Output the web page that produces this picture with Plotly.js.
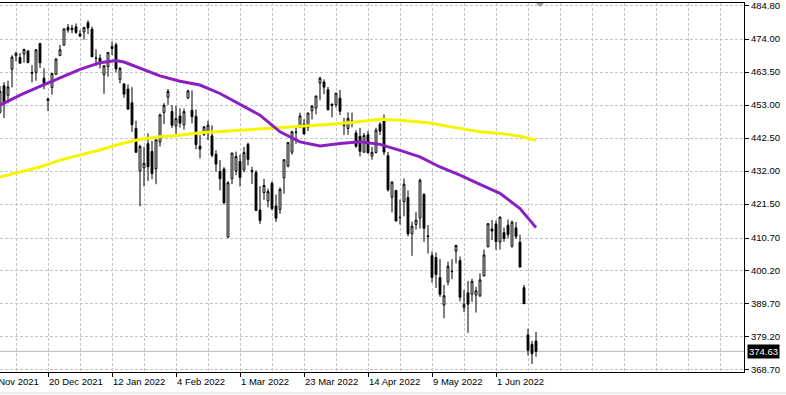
<!DOCTYPE html>
<html>
<head>
<meta charset="utf-8">
<script src="https://cdn.plot.ly/plotly-3.0.1.min.js"></script>
<style>html,body{margin:0;padding:0;background:#fff;}#chart{width:786px;height:395px;}</style>
</head>
<body>
<div id="chart"></div>
<script>
const dates = [
"2021-12-02","2021-12-03","2021-12-06","2021-12-07","2021-12-08","2021-12-09","2021-12-10","2021-12-13","2021-12-14","2021-12-15","2021-12-16","2021-12-17","2021-12-20","2021-12-21","2021-12-22","2021-12-23","2021-12-27","2021-12-28","2021-12-29","2021-12-30","2021-12-31",
"2022-01-03","2022-01-04","2022-01-05","2022-01-06","2022-01-07","2022-01-10","2022-01-11","2022-01-12","2022-01-13","2022-01-14","2022-01-18","2022-01-19","2022-01-20","2022-01-21","2022-01-24","2022-01-25","2022-01-26","2022-01-27","2022-01-28","2022-01-31",
"2022-02-01","2022-02-02","2022-02-03","2022-02-04","2022-02-07","2022-02-08","2022-02-09","2022-02-10","2022-02-11","2022-02-14","2022-02-15","2022-02-16","2022-02-17","2022-02-18","2022-02-22","2022-02-23","2022-02-24","2022-02-25","2022-02-28",
"2022-03-01","2022-03-02","2022-03-03","2022-03-04","2022-03-07","2022-03-08","2022-03-09","2022-03-10","2022-03-11","2022-03-14","2022-03-15","2022-03-16","2022-03-17","2022-03-18","2022-03-21","2022-03-22","2022-03-23","2022-03-24","2022-03-25","2022-03-28","2022-03-29","2022-03-30","2022-03-31",
"2022-04-01","2022-04-04","2022-04-05","2022-04-06","2022-04-07","2022-04-08","2022-04-11","2022-04-12","2022-04-13","2022-04-14","2022-04-18","2022-04-19","2022-04-20","2022-04-21","2022-04-22","2022-04-25","2022-04-26","2022-04-27","2022-04-28","2022-04-29",
"2022-05-02","2022-05-03","2022-05-04","2022-05-05","2022-05-06","2022-05-09","2022-05-10","2022-05-11","2022-05-12","2022-05-13","2022-05-16","2022-05-17","2022-05-18","2022-05-19","2022-05-20","2022-05-23","2022-05-24","2022-05-25","2022-05-26","2022-05-27","2022-05-31",
"2022-06-01","2022-06-02","2022-06-03","2022-06-06","2022-06-07","2022-06-08","2022-06-09","2022-06-10","2022-06-13","2022-06-14","2022-06-15"
];
const open = [
450.73,459.17,456.13,464.41,468.70,468.15,469.23,470.19,463.09,463.42,472.57,461.55,454.48,458.61,462.79,468.75,472.06,477.72,476.98,477.93,475.64,
476.30,479.22,477.16,467.89,467.95,462.70,465.23,471.59,472.19,461.19,459.74,458.13,453.75,445.56,432.03,433.06,440.72,438.26,432.68,441.24,
450.68,455.50,450.95,446.35,449.51,446.73,455.22,451.34,449.41,439.92,443.73,443.93,443.22,437.33,431.89,432.66,411.02,429.61,432.03,
435.04,432.37,440.47,431.75,431.55,419.62,425.14,422.52,428.12,420.89,419.77,429.89,433.59,438.00,444.34,445.86,446.91,445.94,451.16,452.06,460.02,460.34,457.89,
453.31,453.13,455.22,446.89,445.59,447.97,444.11,443.08,438.03,443.55,436.81,437.86,446.92,448.54,436.91,423.67,425.83,417.24,422.29,423.59,
412.07,415.01,417.08,424.55,411.10,405.10,404.49,398.07,389.37,396.71,399.98,406.53,403.50,388.62,393.25,392.83,392.56,392.31,398.67,407.91,413.55,
415.17,409.42,412.40,414.78,408.10,413.93,409.34,394.88,379.85,376.85,377.90
];
const high = [
459.07,460.30,460.79,468.88,470.00,469.63,470.90,470.56,465.74,470.86,472.87,464.74,455.40,463.21,467.81,472.19,477.31,478.81,478.56,479.00,476.86,
477.85,479.98,477.98,470.82,469.20,465.74,469.85,473.20,472.88,465.09,459.96,459.61,458.74,448.06,440.38,439.72,444.04,441.59,442.00,450.28,
453.63,458.12,452.97,452.78,451.99,451.92,457.88,457.71,451.61,443.50,446.28,448.06,446.57,438.66,435.50,433.26,428.76,437.84,438.20,
437.17,439.72,441.11,433.37,432.30,427.21,429.51,426.43,428.77,424.55,426.84,435.68,441.07,444.86,446.46,450.58,448.49,450.50,452.98,455.91,462.07,461.19,458.76,
453.46,456.91,457.83,448.93,450.69,450.63,445.00,445.75,444.11,444.73,439.75,445.80,447.57,450.01,438.08,428.69,426.04,422.92,429.64,425.87,
415.92,418.93,429.66,425.00,414.80,406.41,406.08,404.04,395.80,403.18,403.97,408.57,404.80,394.14,397.03,397.73,395.15,399.45,407.04,415.38,416.46,
416.24,417.44,414.04,416.61,416.22,415.82,411.74,395.78,381.81,377.94,380.80
];
const low = [
450.31,448.92,453.56,458.65,466.83,466.14,466.51,466.27,460.25,460.74,464.80,458.06,451.14,456.31,462.58,468.64,472.01,476.06,475.92,475.67,474.67,
473.85,475.58,468.28,465.43,464.65,456.60,462.05,468.94,463.44,459.90,455.31,451.46,444.50,437.95,420.76,427.15,428.86,429.45,427.82,439.81,
446.94,453.05,445.71,443.83,445.85,445.22,455.01,447.20,438.94,436.02,443.18,441.94,436.42,431.82,425.86,421.35,410.64,427.86,430.70,
427.11,431.57,433.80,427.88,419.36,415.12,422.82,420.44,419.53,415.79,418.42,424.80,433.19,437.22,440.68,445.86,443.71,444.76,448.43,450.06,454.56,456.47,451.16,
449.14,452.26,449.82,443.47,443.53,445.94,439.39,436.65,437.84,437.68,435.61,437.68,443.48,437.10,425.44,418.84,416.07,415.01,417.60,411.21,
405.02,413.36,413.71,409.44,405.73,396.50,394.82,391.96,385.15,395.61,397.60,402.58,390.55,387.11,380.54,390.38,386.96,391.89,398.45,407.70,410.03,
406.93,407.04,409.51,410.55,407.61,410.38,401.44,389.75,373.30,370.59,372.90
];
const close = [
457.40,453.42,458.79,468.28,469.52,466.35,470.74,466.57,463.36,470.60,466.45,459.87,454.98,463.06,467.69,470.60,477.26,476.87,477.48,476.16,474.96,
477.71,477.55,468.38,467.94,466.09,465.51,469.75,471.02,464.53,464.72,456.49,451.75,446.75,437.98,439.84,434.47,433.38,431.24,441.95,449.91,
452.95,457.35,446.60,448.70,447.26,450.94,457.54,449.32,440.46,439.02,446.10,446.60,437.06,434.23,429.57,421.95,428.30,437.75,436.63,
429.98,437.89,435.71,432.17,419.43,416.25,427.41,425.48,420.07,417.00,426.17,435.62,441.07,444.52,444.39,449.59,443.80,450.49,452.69,455.91,461.55,458.70,451.64,
452.92,456.80,451.03,446.52,448.77,447.57,439.92,438.29,443.31,437.79,437.97,445.04,444.71,438.06,426.04,428.51,416.10,417.27,427.81,412.00,
414.48,416.38,429.06,413.81,411.34,398.17,399.09,392.75,392.34,401.72,400.09,408.32,391.86,389.46,389.63,396.92,393.89,397.37,405.31,415.26,412.93,
409.59,417.39,410.54,411.79,415.74,411.22,401.44,389.80,375.00,373.87,374.63
];
const maPurpleIdx = [0,5,10,15,20,25,29,31,35,40,45,50,55,60,65,70,75,80,85,90,95,100,105,110,115,120,125,130,134];
const maPurple    = [453.0,456.2,459.0,461.8,464.4,466.5,467.2,466.7,464.8,462.3,460.6,459.4,456.7,453.3,449.8,444.5,441.3,440.0,440.8,441.3,440.5,438.6,436.5,433.3,430.7,427.8,424.9,420.1,414.0];
const maYellowIdx = [0,5,10,15,20,25,30,35,40,45,50,60,68,75,82,88,95,100,107,115,120,125,130,134];
const maYellow    = [430.1,431.7,433.3,435.5,437.1,438.7,440.6,442.1,442.9,443.4,444.2,445.0,445.6,446.3,446.8,447.5,448.5,448.2,447.4,445.6,444.5,444.0,443.1,441.8];

const yTickVals = [484.80,474.00,463.50,453.00,442.50,432.00,421.50,410.70,400.20,389.70,379.20,368.70];
const yTickText = ["484.80","474.00","463.50","453.00","442.50","432.00","421.50","410.70","400.20","389.70","379.20","368.70"];
const xLabelDates = ["2021-11-26","2021-12-20","2022-01-12","2022-02-04","2022-03-01","2022-03-23","2022-04-14","2022-05-09","2022-06-01"];
const xLabelText  = ["26 Nov 2021","20 Dec 2021","12 Jan 2022","4 Feb 2022","1 Mar 2022","23 Mar 2022","14 Apr 2022","9 May 2022","1 Jun 2022"];
const lastPrice = 374.63;

const idx = dates.map((d,i)=>i);
const xRange = [0, 186];
const yRange = [368.05, 485.5];
// label positions: bar index; the first (26 Nov) lies 4 bars before the first bar
const labelIdx = xLabelDates.map(d => { const k = dates.indexOf(d); return k >= 0 ? k : -4; });

const font = "Liberation Sans, Arial, sans-serif";
const gridDash = "3px,2px";
const gridColor = "#c4c4c4";

const traces = [
  {
    type: "candlestick", x: idx, open: open, high: high, low: low, close: close,
    increasing: {line: {color: "#000", width: 1}, fillcolor: "#ffffff"},
    decreasing: {line: {color: "#000", width: 1}, fillcolor: "#000000"},
    whiskerwidth: 0, hoverinfo: "skip", showlegend: false
  },
  { type: "scatter", mode: "lines", x: maYellowIdx, y: maYellow, line: {color: "#f5f500", width: 3}, hoverinfo: "skip", showlegend: false },
  { type: "scatter", mode: "lines", x: maPurpleIdx, y: maPurple, line: {color: "#8a1fc2", width: 3}, hoverinfo: "skip", showlegend: false }
];

const annotations = labelIdx.map((k, j) => ({
  xref: "paper", yref: "paper",
  x: (k - xRange[0]) / (xRange[1] - xRange[0]), y: 0,
  xanchor: "left", yanchor: "top", yshift: -2, xshift: -1,
  text: xLabelText[j], showarrow: false,
  font: {family: font, size: 9.5, color: "#000"}
}));
annotations.push({
  xref: "paper", yref: "y", x: 1, y: lastPrice, xanchor: "left", yanchor: "middle", xshift: 3,
  text: lastPrice.toFixed(2), showarrow: false, bgcolor: "#000", borderpad: 1,
  font: {family: font, size: 9.5, color: "#fff"}
});

const layout = {
  width: 786, height: 395,
  margin: {l: 0, r: 42, t: 3, b: 23, pad: 0},
  paper_bgcolor: "#fff", plot_bgcolor: "#fff",
  showlegend: false, boxgap: 0.35,
  xaxis: {
    type: "linear", range: xRange, rangeslider: {visible: false},
    tickmode: "array", tickvals: labelIdx.filter(k => k >= 0), showticklabels: false,
    ticks: "outside", ticklen: 4, tickcolor: "#000",
    showgrid: true, gridcolor: gridColor, griddash: gridDash, gridwidth: 1,
    minor: {tick0: 4, dtick: 8, showgrid: true, gridcolor: gridColor, griddash: gridDash, gridwidth: 1, ticks: ""},
    showline: true, mirror: true, linecolor: "#000", linewidth: 1, zeroline: false, fixedrange: true
  },
  yaxis: {
    side: "right", range: yRange, tickmode: "array", tickvals: yTickVals, ticktext: yTickText,
    ticks: "outside", ticklen: 4, tickcolor: "#000", ticklabeloverflow: "allow",
    tickfont: {family: font, size: 9.5, color: "#000"},
    showgrid: true, gridcolor: gridColor, griddash: gridDash, gridwidth: 1,
    showline: true, mirror: false, linecolor: "#000", linewidth: 1, zeroline: false, fixedrange: true
  },
  shapes: [
    {type: "line", xref: "paper", yref: "y", x0: 0, x1: 1, y0: lastPrice, y1: lastPrice, line: {color: "#b8b8b8", width: 1}, layer: "below"},
    {type: "line", xref: "paper", yref: "paper", x0: 0, x1: 1.06, y0: -0.057, y1: -0.057, line: {color: "#d8d8d8", width: 1}},
    {type: "path", xref: "x", yref: "paper", xsizemode: "pixel", ysizemode: "pixel", xanchor: dates.length, yanchor: 1,
     path: "M-4,0 L4,0 L0,-4 Z", fillcolor: "#a0a0a0", line: {width: 0}}
  ],
  annotations: annotations
};

Plotly.newPlot("chart", traces, layout, {staticPlot: true, displayModeBar: false});
</script>
</body>
</html>
